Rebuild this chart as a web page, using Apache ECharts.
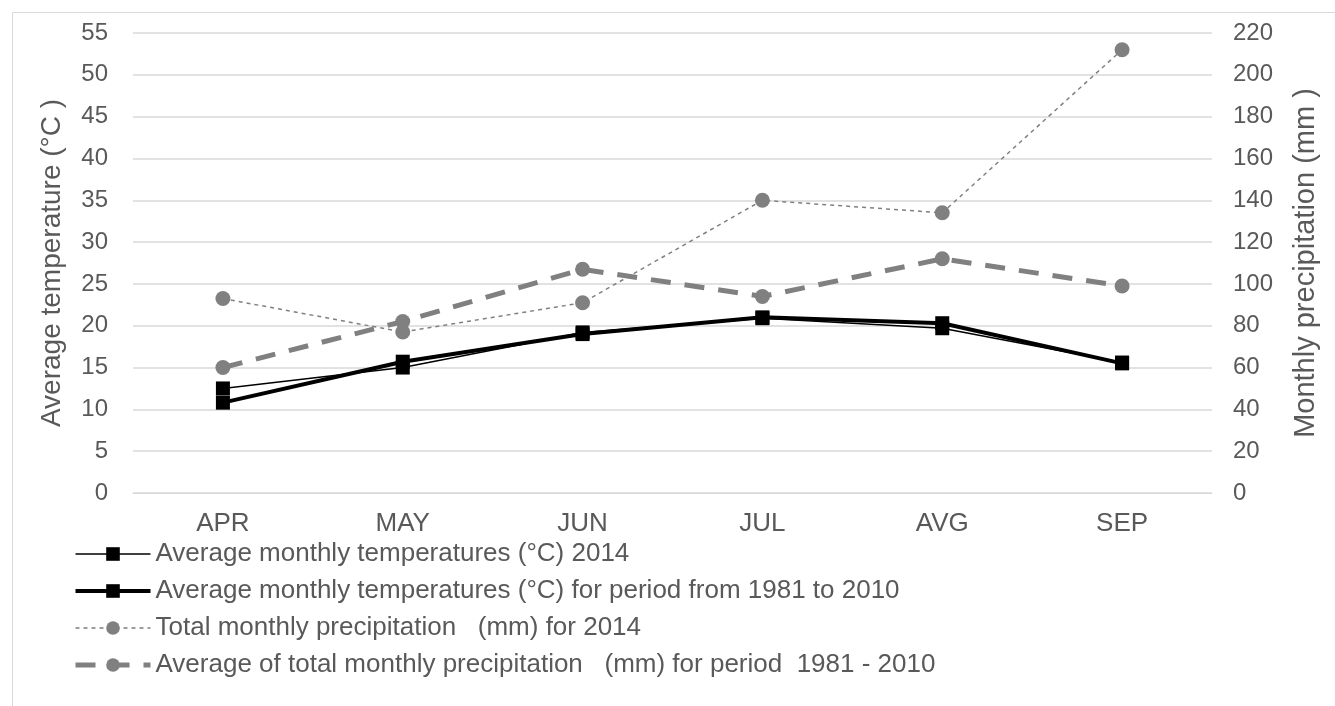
<!DOCTYPE html>
<html>
<head>
<meta charset="utf-8">
<script src="https://cdn.jsdelivr.net/npm/echarts@6/dist/echarts.min.js"></script>
<style>
  html, body { margin: 0; padding: 0; background: #fff; }
  #main { width: 1335px; height: 706px; }
</style>
</head>
<body>
<div id="main"></div>
<script>
// months as printed on the x axis
var months = ['APR', 'MAY', 'JUN', 'JUL', 'AVG', 'SEP'];

// temperatures, °C (left axis)
var temp2014 = [12.5, 15.0, 19.2, 20.9, 19.7, 15.6];
var temp1981to2010 = [10.8, 15.7, 19.0, 21.0, 20.3, 15.5];

// precipitation, mm (right axis)
var precip2014 = [93, 77, 91, 140, 134, 212];
var precip1981to2010 = [60, 82, 107, 94, 112, 99];

var seriesNames = [
    'Average monthly temperatures (°C) 2014',
    'Average monthly temperatures (°C) for period from 1981 to 2010',
    'Total monthly precipitation   (mm) for 2014',
    'Average of total monthly precipitation   (mm) for period  1981 - 2010'
];

var txtColor = '#595959';
var gridColor = '#d9d9d9';
var grey = '#808080';
var fontFam = '"Liberation Sans", Arial, sans-serif';

var thinLine = { color: '#000', width: 1.5 };
var thickLine = { color: '#000', width: 4 };
var dotLine = { color: grey, width: 1.5, type: [4, 4] };
var dashLine = { color: grey, width: 5, type: [20, 14] };

var myChart = echarts.init(document.getElementById('main'));

var option = {
    backgroundColor: '#fff',
    animation: false,
    graphic: [{
        type: 'rect',
        shape: { x: 12.5, y: 12.5, width: 1340, height: 720 },
        style: { fill: 'none', stroke: gridColor, lineWidth: 1 },
        silent: true
    }],
    grid: {
        left: 133,
        right: 123,
        top: 33,
        bottom: 213
    },
    legend: {
        orient: 'vertical',
        left: 68,
        top: 536,
        itemWidth: 75,
        itemHeight: 17,
        itemGap: 11,
        data: [
            { name: seriesNames[0], lineStyle: thinLine },
            { name: seriesNames[1], lineStyle: thickLine },
            { name: seriesNames[2], lineStyle: dotLine },
            { name: seriesNames[3], lineStyle: dashLine }
        ],
        textStyle: { color: txtColor, fontSize: 26, fontFamily: fontFam }
    },
    xAxis: {
        type: 'category',
        data: months,
        boundaryGap: true,
        axisLine: { lineStyle: { color: gridColor } },
        axisTick: { show: false },
        axisLabel: { color: txtColor, fontSize: 26, fontFamily: fontFam, margin: 18 }
    },
    yAxis: [{
        type: 'value',
        min: 0,
        max: 55,
        interval: 5,
        name: 'Average temperature (°C )',
        nameLocation: 'middle',
        nameGap: 67,
        nameTextStyle: { color: txtColor, fontSize: 28, fontFamily: fontFam },
        axisLine: { show: false },
        axisTick: { show: false },
        axisLabel: { color: txtColor, fontSize: 24, fontFamily: fontFam, margin: 25 },
        splitLine: { lineStyle: { color: gridColor, width: 1.5 } }
    }, {
        type: 'value',
        min: 0,
        max: 220,
        interval: 20,
        name: 'Monthly precipitation (mm )',
        nameLocation: 'middle',
        nameGap: 79,
        nameRotate: 90,
        nameTextStyle: { color: txtColor, fontSize: 29, fontFamily: fontFam },
        axisLine: { show: false },
        axisTick: { show: false },
        axisLabel: { color: txtColor, fontSize: 24, fontFamily: fontFam, margin: 21 },
        splitLine: { show: false }
    }],
    series: [{
        name: seriesNames[0],
        type: 'line',
        data: temp2014,
        yAxisIndex: 0,
        symbol: 'rect',
        symbolSize: 14,
        itemStyle: { color: '#000' },
        lineStyle: thinLine,
        z: 4
    }, {
        name: seriesNames[1],
        type: 'line',
        data: temp1981to2010,
        yAxisIndex: 0,
        symbol: 'rect',
        symbolSize: 14,
        itemStyle: { color: '#000' },
        lineStyle: thickLine,
        z: 3
    }, {
        name: seriesNames[2],
        type: 'line',
        data: precip2014,
        yAxisIndex: 1,
        symbol: 'circle',
        symbolSize: 15,
        itemStyle: { color: grey },
        lineStyle: dotLine,
        z: 2
    }, {
        name: seriesNames[3],
        type: 'line',
        data: precip1981to2010,
        yAxisIndex: 1,
        symbol: 'circle',
        symbolSize: 15,
        itemStyle: { color: grey },
        lineStyle: dashLine,
        z: 2
    }]
};

myChart.setOption(option);
</script>
</body>
</html>
